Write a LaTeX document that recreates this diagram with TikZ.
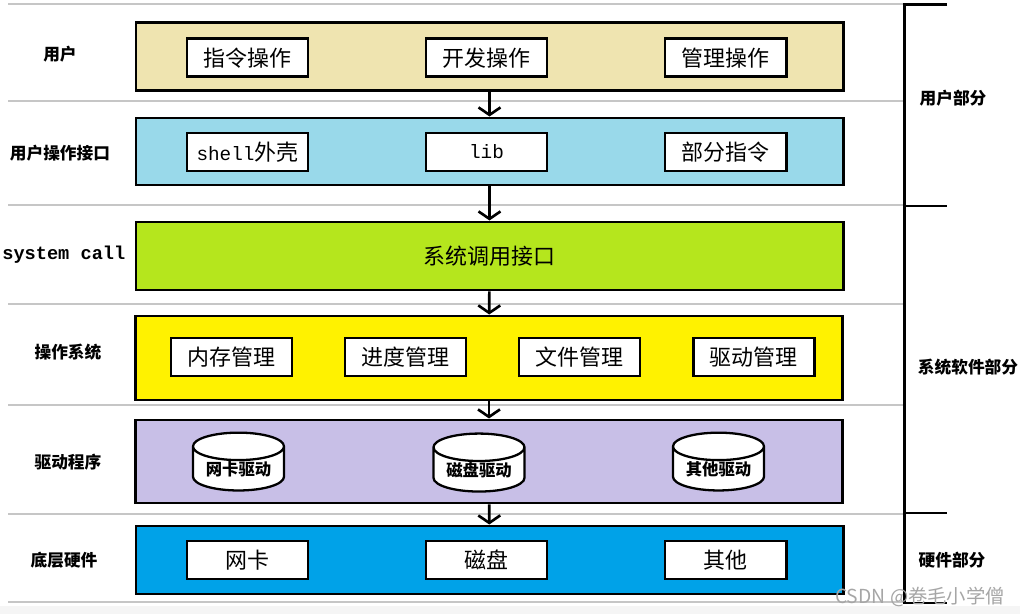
\documentclass[tikz,border=0pt]{standalone}
\usepackage{fontspec}
\setmainfont{Noto Sans CJK SC}
\newfontfamily\monofont{Liberation Mono}
\usetikzlibrary{shapes}
\usetikzlibrary{shapes.geometric}
\usetikzlibrary{positioning}
\usetikzlibrary{arrows.meta}
\definecolor{tanl}{HTML}{EFE4B0}
\definecolor{skyl}{HTML}{99D9EA}
\definecolor{limel}{HTML}{B5E61D}
\definecolor{yell}{HTML}{FFF200}
\definecolor{lavl}{HTML}{C8BFE7}
\definecolor{bluel}{HTML}{00A2E8}
\tikzset{
    layer/.style = {rectangle, line width=1.7pt, draw=black, minimum width=14.14cm, minimum height=1.36cm, inner sep=0pt},
    inbox/.style = {rectangle, line width=1.7pt, draw=black, fill=white, minimum width=2.42cm, minimum height=0.76cm, inner sep=0pt, font=\fontsize{12.5}{14}\selectfont},
    drum/.style = {cylinder, shape border rotate=90, aspect=0.42, line width=1.3pt, draw=black, fill=white, minimum width=1.82cm, minimum height=1.12cm, inner sep=0pt, font=\fontsize{9.3}{11}\selectfont\bfseries},
    lname/.style = {font=\fontsize{9.5}{11}\selectfont\bfseries},
    sep/.style = {gray!45, line width=0.6pt},
    brace/.style = {black, line width=1.7pt},
    edgea/.style = {-{Straight Barb[length=0.15cm, width=0.44cm, line width=1.5pt]}, line width=1.5pt, black},
}

\begin{document}
\begin{tikzpicture}
\useasboundingbox (0,0) rectangle (20.4,-12.28);
\fill[gray!8] (0,-12.12) rectangle (20.4,-12.28);
% separators
\foreach \y in {-0.08,-2.02,-4.1,-6.08,-8.1,-10.28,-12.04}
    \draw[sep] (0.16,\y) -- (18.08,\y);
%
\node[layer, fill=tanl] at (9.79,-1.14) (l1) {};
\node[layer, fill=skyl, minimum height=1.34cm] at (9.79,-3.03) (l2) {};
\node[layer, fill=limel] at (9.79,-5.12) (l3) {\fontsize{12.5}{14}\selectfont 系统调用接口};
\node[layer, fill=yell, minimum height=1.68cm] at (9.78,-7.16) (l4) {};
\node[layer, fill=lavl, minimum height=1.66cm] at (9.78,-9.23) (l5) {};
\node[layer, fill=bluel] at (9.79,-11.2) (l6) {};
%
\node[inbox] at (4.95,-1.16) (cmd) {指令操作};
\node[inbox] at (9.73,-1.16) (dev) {开发操作};
\node[inbox] at (14.51,-1.16) (mgr) {管理操作};
%
\node[inbox] at (4.95,-3.04) (shell) {{\monofont\fontsize{11}{13}\selectfont shell}外壳};
\node[inbox] at (9.73,-3.04) (lib) {\monofont\fontsize{11}{13}\selectfont lib};
\node[inbox] at (14.51,-3.04) (part) {部分指令};
%
\node[inbox] at (4.63,-7.14) (mem) {内存管理};
\node[inbox] at (8.11,-7.14) (proc) {进度管理};
\node[inbox] at (11.59,-7.14) (file) {文件管理};
\node[inbox] at (15.07,-7.14) (drv) {驱动管理};
%
\node[drum] at (4.77,-9.38) (nicd) {网卡驱动};
\node[drum] at (9.58,-9.4) (diskd) {磁盘驱动};
\node[drum] at (14.37,-9.38) (othd) {其他驱动};
%
\node[inbox] at (4.95,-11.2) (nic) {网卡};
\node[inbox] at (9.73,-11.2) (disk) {磁盘};
\node[inbox] at (14.51,-11.2) (oth) {其他};
%
\draw[edgea] (l1) edge node {} (l2);
\draw[edgea] (l2) edge node {} (l3);
\draw[edgea] (l3) edge node {} (l4);
\draw[edgea] (l4) edge node {} (l5);
\draw[edgea] (l5) edge node {} (l6);
%
\node[lname] at (1.2,-1.08) (n1) {用户};
\node[lname] at (1.2,-3.06) (n2) {用户操作接口};
\node[anchor=west, inner sep=0pt, font=\monofont\fontsize{10.6}{12}\selectfont\bfseries] at (0.04,-5.1) (n3) {system call};
\node[lname] at (1.36,-7.04) (n4) {操作系统};
\node[lname] at (1.36,-9.24) (n5) {驱动程序};
\node[lname] at (1.28,-11.2) (n6) {底层硬件};
%
\draw[brace] (18.94,-0.1) -- (18.08,-0.1) -- (18.08,-12.06) -- (18.94,-12.06);
\draw[brace] (18.08,-4.12) -- (18.94,-4.12);
\draw[brace] (18.08,-10.26) -- (18.94,-10.26);
\node[lname] at (19.06,-1.96) (p1) {用户部分};
\node[lname] at (19.36,-7.34) (p2) {系统软件部分};
\node[lname] at (19.04,-11.2) (p3) {硬件部分};
%
\node[text=gray!70, font=\fontsize{11}{13}\selectfont] at (18.4,-11.94) (wm) {CSDN @卷毛小学僧};
\end{tikzpicture}
\end{document}
